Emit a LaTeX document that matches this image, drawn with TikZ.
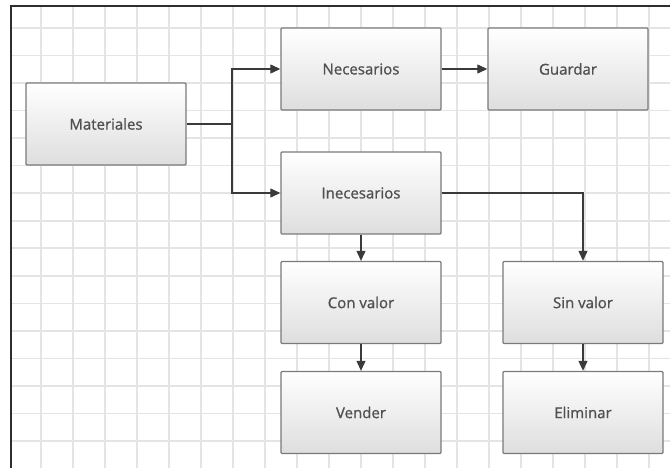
\documentclass[tikz,border=0pt]{standalone}
\usepackage{fontspec}
\newfontfamily\boxfont[RawFeature={embolden=1.0}]{Open Sans}
\usetikzlibrary{arrows.meta}
\definecolor{gridc}{HTML}{E4E4E4}
\definecolor{framec}{HTML}{2E2E2E}
\definecolor{boxline}{HTML}{7A7A7A}
\definecolor{txtc}{HTML}{505050}
\definecolor{arrc}{HTML}{3A3A3A}
\tikzset{
  box/.style={draw=boxline, line width=1.4pt, rounded corners=1pt,
    top color=white, bottom color=black!13, shading angle=0,
    minimum width=160pt, minimum height=82pt, inner sep=0pt,
    font=\boxfont\fontsize{15}{17}\selectfont, text=txtc},
  arr/.style={draw=arrc, line width=1.2pt, -{Triangle[length=10pt,width=9pt]}},
  plain/.style={draw=arrc, line width=1.2pt}
}
\begin{document}
\begin{tikzpicture}[x=1pt,y=-1pt]
\useasboundingbox (0,0) rectangle (670,468);
\fill[white] (0,0) rectangle (670,468);
% grid
\foreach \k in {0,...,19} {\draw[gridc, line width=1.6pt] ({41+32*\k},6) -- ({41+32*\k},468);}
\foreach \k in {0,...,15} {\draw[gridc, line width=1.6pt] (11,{28+27.53*\k}) -- (670,{28+27.53*\k});}
% frame
\draw[framec, line width=1.6pt] (11,468) -- (11,6) -- (670,6);
% boxes
\node[box] (mat) at (106,124) {Materiales};
\node[box] (nec) at (361,69) {Necesarios};
\node[box] (gua) at (568,69) {Guardar};
\node[box] (ine) at (361,193) {Inecesarios};
\node[box] (con) at (361,302.5) {Con valor};
\node[box] (ven) at (361,412.5) {Vender};
\node[box] (sin) at (583,302.5) {Sin valor};
\node[box] (eli) at (583,412.5) {Eliminar};
% connectors
\coordinate (j) at (232,124);
\draw[plain] (mat.east) -- (j);
\draw[arr] (j) |- (nec.west);
\draw[arr] (j) |- (ine.west);
\draw[arr] (nec.east) -- (gua.west);
\draw[arr] (ine.east) -| (sin.north);
\draw[arr] (ine.south) -- (con.north);
\draw[arr] (con.south) -- (ven.north);
\draw[arr] (sin.south) -- (eli.north);
\end{tikzpicture}
\end{document}
